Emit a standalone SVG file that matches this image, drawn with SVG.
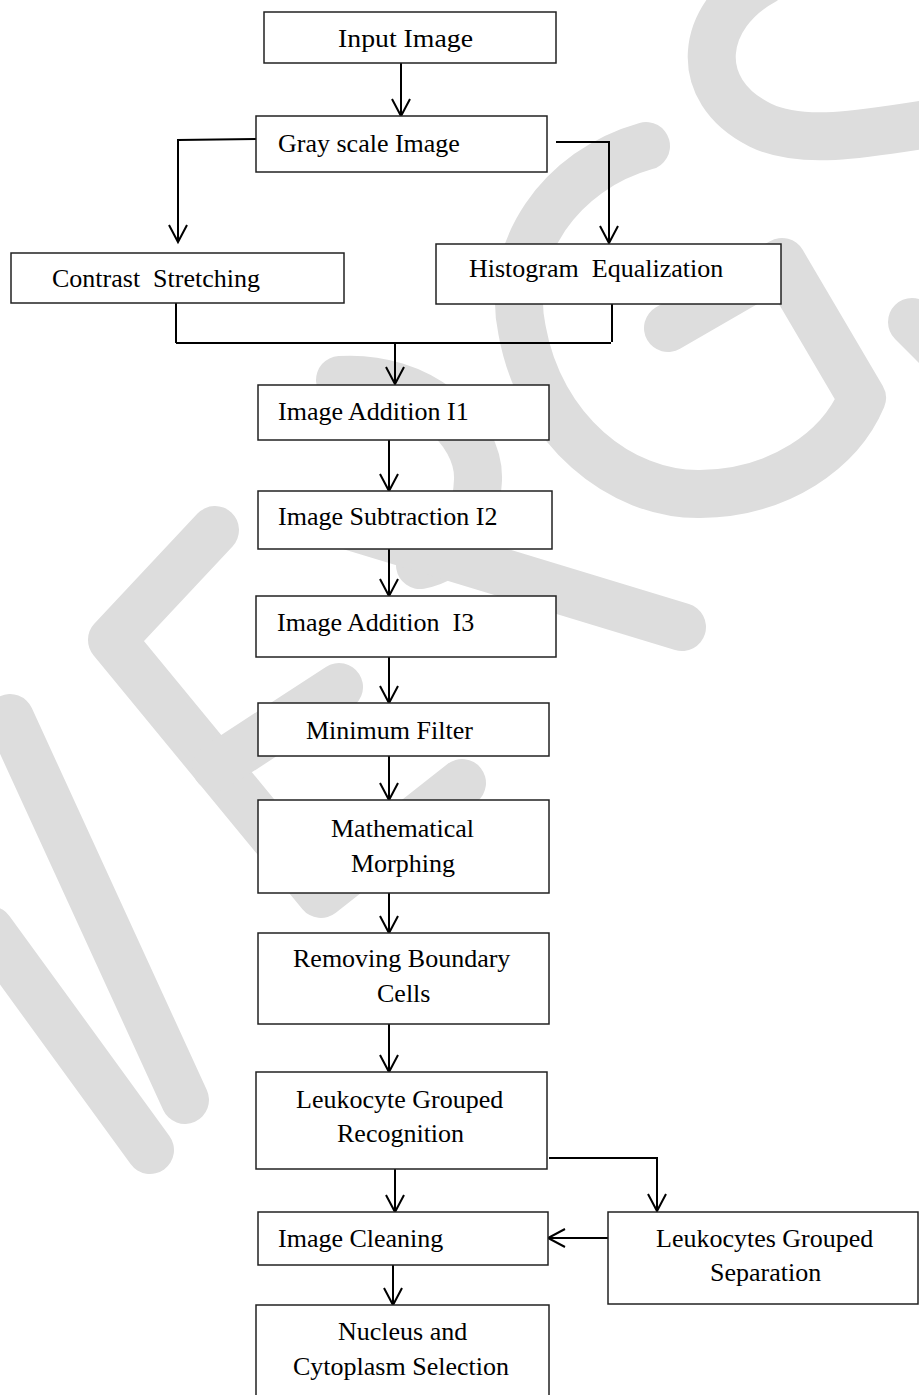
<svg xmlns="http://www.w3.org/2000/svg" width="919" height="1395" viewBox="0 0 919 1395">
<defs>
<style>
.wm{fill:none;stroke:#dddddd;stroke-width:48;stroke-linecap:round;stroke-linejoin:round}
.box{fill:#ffffff;stroke:#222222;stroke-width:1.5}
.t{font-family:"Liberation Serif","Times New Roman",serif;font-size:26px;fill:#000000}
.c{fill:none;stroke:#000000;stroke-width:2}
</style>
<marker id="ah" markerUnits="userSpaceOnUse" markerWidth="24" markerHeight="24" viewBox="-20 -12 24 24" refX="0" refY="0" orient="auto">
<path d="M -17 -9 L 0 0 L -17 9" fill="none" stroke="#000000" stroke-width="2"/>
</marker>
</defs>
<rect x="0" y="0" width="919" height="1395" fill="#ffffff"/>
<g id="watermark">
<path class="wm" d="M 765 -20 C 700 15 690 90 760 125 C 800 145 860 135 940 122"/>
<path class="wm" d="M 912 322 L 960 370"/>
<path class="wm" d="M 646 146 C 560 170 505 250 522 330 C 540 430 620 495 700 494 C 780 493 840 450 862 398 L 782 262 L 668 328"/>
<path class="wm" d="M 340 380 C 420 375 480 430 478 480 C 476 530 450 560 420 565"/>
<path class="wm" d="M 330 520 L 682 627"/>
<path class="wm" d="M 215 530 L 112 640 L 321 894 L 462 783"/>
<path class="wm" d="M 216 767 L 339 687"/>
<path class="wm" d="M 10 718 L 185 1100"/>
<path class="wm" d="M -10 930 L 150 1150"/>
</g>
<g id="connectors">
<path class="c" d="M 401 63 L 401 116" marker-end="url(#ah)"/>
<path class="c" d="M 256 139 L 178 140 L 178 242" marker-end="url(#ah)"/>
<path class="c" d="M 556 142 L 609 142 L 609 243" marker-end="url(#ah)"/>
<path class="c" d="M 176 303 L 176 343"/>
<path class="c" d="M 612 304 L 612 342"/>
<path class="c" d="M 176 343 L 611 343"/>
<path class="c" d="M 395 343 L 395 384" marker-end="url(#ah)"/>
<path class="c" d="M 389 440 L 389 491" marker-end="url(#ah)"/>
<path class="c" d="M 389 549 L 389 596" marker-end="url(#ah)"/>
<path class="c" d="M 389 657 L 389 703" marker-end="url(#ah)"/>
<path class="c" d="M 389 756 L 389 800" marker-end="url(#ah)"/>
<path class="c" d="M 389 893 L 389 933" marker-end="url(#ah)"/>
<path class="c" d="M 389 1024 L 389 1072" marker-end="url(#ah)"/>
<path class="c" d="M 395 1169 L 395 1212" marker-end="url(#ah)"/>
<path class="c" d="M 549 1158 L 657 1158 L 657 1211" marker-end="url(#ah)"/>
<path class="c" d="M 608 1238 L 548 1238" marker-end="url(#ah)"/>
<path class="c" d="M 393 1265 L 393 1305" marker-end="url(#ah)"/>
</g>
<g id="input-image">
<rect class="box" x="264" y="12" width="292" height="51"/>
<text class="t" x="338" y="47" font-size="24" textLength="135" lengthAdjust="spacingAndGlyphs">Input Image</text>
</g>
<g id="gray-scale-image">
<rect class="box" x="256" y="116" width="291" height="56"/>
<text class="t" x="278" y="152">Gray scale Image</text>
</g>
<g id="contrast-stretching">
<rect class="box" x="11" y="253" width="333" height="50"/>
<text class="t" x="52" y="287" xml:space="preserve">Contrast  Stretching</text>
</g>
<g id="histogram-equalization">
<rect class="box" x="436" y="244" width="345" height="60"/>
<text class="t" x="469" y="277" xml:space="preserve">Histogram  Equalization</text>
</g>
<g id="image-addition-i1">
<rect class="box" x="258" y="385" width="291" height="55"/>
<text class="t" x="278" y="420">Image Addition I1</text>
</g>
<g id="image-subtraction-i2">
<rect class="box" x="258" y="491" width="294" height="58"/>
<text class="t" x="278" y="525">Image Subtraction I2</text>
</g>
<g id="image-addition-i3">
<rect class="box" x="256" y="596" width="300" height="61"/>
<text class="t" x="277" y="631" xml:space="preserve">Image Addition  I3</text>
</g>
<g id="minimum-filter">
<rect class="box" x="258" y="703" width="291" height="53"/>
<text class="t" x="306" y="739">Minimum Filter</text>
</g>
<g id="mathematical-morphing">
<rect class="box" x="258" y="800" width="291" height="93"/>
<text class="t" x="331" y="837">Mathematical</text>
<text class="t" x="351" y="872">Morphing</text>
</g>
<g id="removing-boundary-cells">
<rect class="box" x="258" y="933" width="291" height="91"/>
<text class="t" x="293" y="967">Removing Boundary</text>
<text class="t" x="377" y="1002">Cells</text>
</g>
<g id="leukocyte-grouped-recognition">
<rect class="box" x="256" y="1072" width="291" height="97"/>
<text class="t" x="296" y="1108">Leukocyte Grouped</text>
<text class="t" x="337" y="1142">Recognition</text>
</g>
<g id="image-cleaning">
<rect class="box" x="258" y="1212" width="290" height="53"/>
<text class="t" x="278" y="1247">Image Cleaning</text>
</g>
<g id="leukocytes-grouped-separation">
<rect class="box" x="608" y="1212" width="310" height="92"/>
<text class="t" x="656" y="1247">Leukocytes Grouped</text>
<text class="t" x="710" y="1281">Separation</text>
</g>
<g id="nucleus-cytoplasm-selection">
<rect class="box" x="256" y="1305" width="293" height="100"/>
<text class="t" x="338" y="1340">Nucleus and</text>
<text class="t" x="293" y="1375">Cytoplasm Selection</text>
</g>
</svg>
